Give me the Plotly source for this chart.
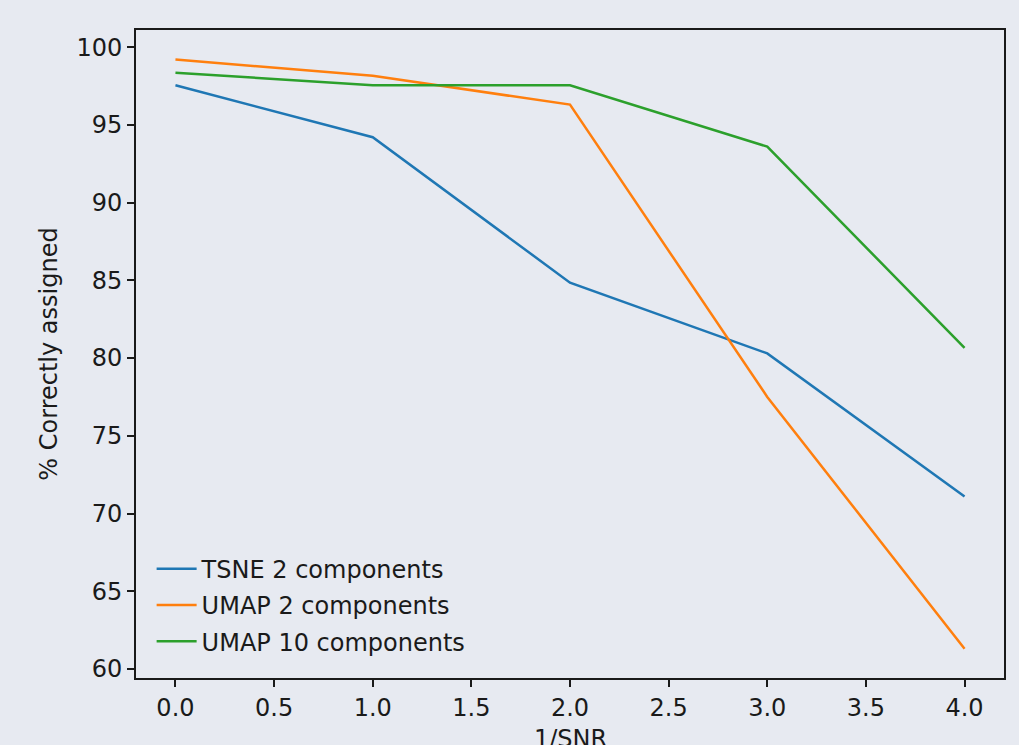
import plotly.graph_objects as go

x_vals = [0, 1, 2, 3, 4]
tsne_2 = [97.55, 94.2, 84.85, 80.3, 71.1]
umap_2 = [99.2, 98.15, 96.3, 77.5, 61.3]
umap_10 = [98.35, 97.55, 97.55, 93.6, 80.65]
series_names = ["TSNE 2 components", "UMAP 2 components", "UMAP 10 components"]
colors = ["#1f77b4", "#ff7f0e", "#2ca02c"]
x_ticks = [0.0, 0.5, 1.0, 1.5, 2.0, 2.5, 3.0, 3.5, 4.0]
y_ticks = [60, 65, 70, 75, 80, 85, 90, 95, 100]

bg = "#e7eaf1"
fs = 24
fig = go.Figure()
for i, (name, ys, c) in enumerate(zip(series_names, [tsne_2, umap_2, umap_10], colors)):
    fig.add_trace(go.Scatter(x=x_vals, y=ys, mode="lines", name=name,
                             legendgroup=f"g{i}",
                             line=dict(color=c, width=2.5)))

font = dict(family="DejaVu Sans", size=fs, color="#1a1a1a")
fig.update_layout(
    width=1019, height=745,
    paper_bgcolor=bg, plot_bgcolor=bg,
    margin=dict(l=136, r=15, t=30, b=67),
    font=font,
    showlegend=True,
    legend=dict(x=0.018, y=0.022, xanchor="left", yanchor="bottom",
                bgcolor="rgba(0,0,0,0)", font=font,
                tracegroupgap=2, itemwidth=40),
    xaxis=dict(range=[-0.2, 4.2], tickvals=x_ticks,
               ticktext=[f"{v:.1f}" for v in x_ticks],
               showgrid=False, zeroline=False, showline=True, mirror=True,
               linecolor="#1a1a1a", linewidth=2, ticks="outside", ticklen=7,
               tickwidth=1.5, tickcolor="#1a1a1a", automargin=False),
    yaxis=dict(range=[59.42, 101.1], tickvals=y_ticks,
               showgrid=False, zeroline=False, showline=True, mirror=True,
               linecolor="#1a1a1a", linewidth=2, ticks="outside", ticklen=7,
               tickwidth=1.5, tickcolor="#1a1a1a", automargin=False,
               title=dict(text="% Correctly assigned", font=font, standoff=12)),
    annotations=[dict(text="1/SNR", xref="paper", yref="paper", x=0.5,
                      y=-0.069, xanchor="center", yanchor="top",
                      showarrow=False, font=font)],
)
fig.write_html("out.html", config={"displayModeBar": False},
               post_script="document.body.style.margin='0';document.body.style.overflow='hidden';")
